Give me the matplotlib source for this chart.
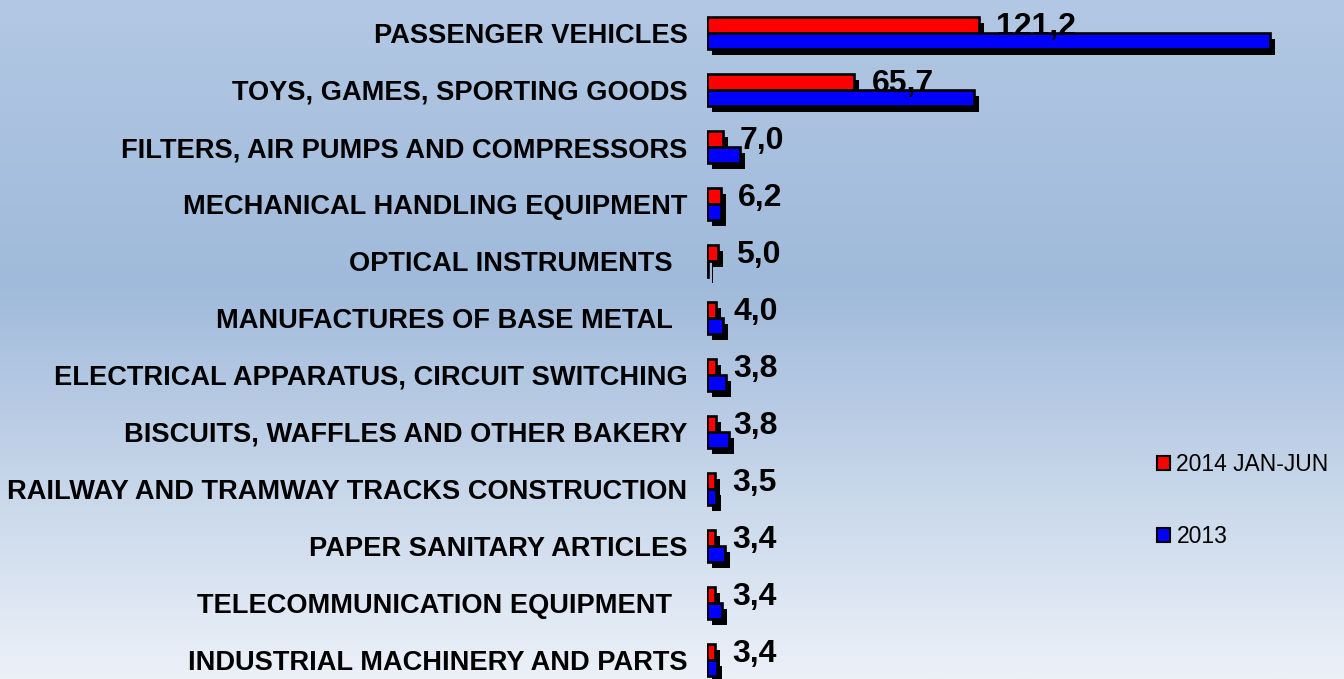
import matplotlib.pyplot as plt
from matplotlib.colors import LinearSegmentedColormap
from matplotlib.patches import Patch
import numpy as np

plt.rcParams['font.family'] = ['Liberation Sans', 'DejaVu Sans']

# data
categories = [
    "PASSENGER VEHICLES",
    "TOYS, GAMES, SPORTING GOODS",
    "FILTERS, AIR PUMPS AND COMPRESSORS",
    "MECHANICAL HANDLING EQUIPMENT",
    "OPTICAL INSTRUMENTS  ",
    "MANUFACTURES OF BASE METAL  ",
    "ELECTRICAL APPARATUS, CIRCUIT SWITCHING",
    "BISCUITS, WAFFLES AND OTHER BAKERY",
    "RAILWAY AND TRAMWAY TRACKS CONSTRUCTION",
    "PAPER SANITARY ARTICLES",
    "TELECOMMUNICATION EQUIPMENT  ",
    "INDUSTRIAL MACHINERY AND PARTS",
]
val_2014 = [121.2, 65.7, 7.0, 6.2, 5.0, 4.0, 3.8, 3.8, 3.5, 3.4, 3.4, 3.4]
val_2013 = [251.0, 119.0, 14.7, 6.1, 0.4, 7.1, 8.3, 9.8, 4.0, 7.9, 6.5, 4.3]
value_labels = ["121,2", "65,7", "7,0", "6,2", "5,0", "4,0",
                "3,8", "3,8", "3,5", "3,4", "3,4", "3,4"]

W, H = 1344, 679
fig = plt.figure(figsize=(W / 100, H / 100), dpi=100)

# background gradient
bg = fig.add_axes([0, 0, 1, 1], zorder=0)
cmap = LinearSegmentedColormap.from_list(
    "bg", [(0.0, (178/255, 200/255, 228/255)),
           (0.42, (160/255, 186/255, 219/255)),
           (1.0, (236/255, 241/255, 248/255))])
bg.imshow(np.linspace(0, 1, 256).reshape(-1, 1), aspect='auto', cmap=cmap,
          extent=[0, 1, 0, 1], origin='upper')
bg.axis('off')

# main axes: bars start at x=707 px, 2.245 px per unit, rows 57 px apart
x0 = 707
pxu = 2.245
xmax = (W - x0) / pxu
ax = fig.add_axes([x0 / W, 0, 1 - x0 / W, 1], zorder=1)
ax.set_facecolor('none')
row = 57.0
c0 = 33.0
ax.set_xlim(0, xmax)
ax.set_ylim((H - c0) / row, -c0 / row)

y = np.arange(len(categories))
h = 16 / row
sdx = 5 / pxu
sdy = 6 / row

# shadows
ax.barh(y - h / 2 + sdy, val_2014, height=h, left=sdx, color='black', zorder=2)
ax.barh(y + h / 2 + sdy, val_2013, height=h, left=sdx, color='black', zorder=2)
# bars
ax.barh(y - h / 2, val_2014, height=h, color='#ff0000', edgecolor='black',
        linewidth=1.9, zorder=3)
ax.barh(y + h / 2, val_2013, height=h, color='#0000ff', edgecolor='black',
        linewidth=1.9, zorder=3)

for yi, v, lab in zip(y, val_2014, value_labels):
    ax.annotate(lab, (v, yi), xytext=(12.5, 4), textcoords='offset points',
                ha='left', va='center', fontsize=23, fontweight='bold', zorder=4)

ax.set_yticks(y)
ax.set_yticklabels(categories, fontsize=19.6, fontweight='bold')
ax.tick_params(axis='y', length=0, pad=14)
ax.set_xticks([])
for s in ax.spines.values():
    s.set_visible(False)

handles = [Patch(facecolor='#ff0000', edgecolor='black', linewidth=1.5),
           Patch(facecolor='#0000ff', edgecolor='black', linewidth=1.5)]
fig.legend(handles, ["2014 JAN-JUN", "2013"], loc='upper left',
           bbox_to_anchor=(1157 / W, 1 - 453 / H), frameon=False,
           fontsize=16.5, handlelength=0.55, handleheight=0.55,
           handletextpad=0.3, labelspacing=2.15, borderpad=0, borderaxespad=0)

fig.savefig("out.png", dpi=100)
